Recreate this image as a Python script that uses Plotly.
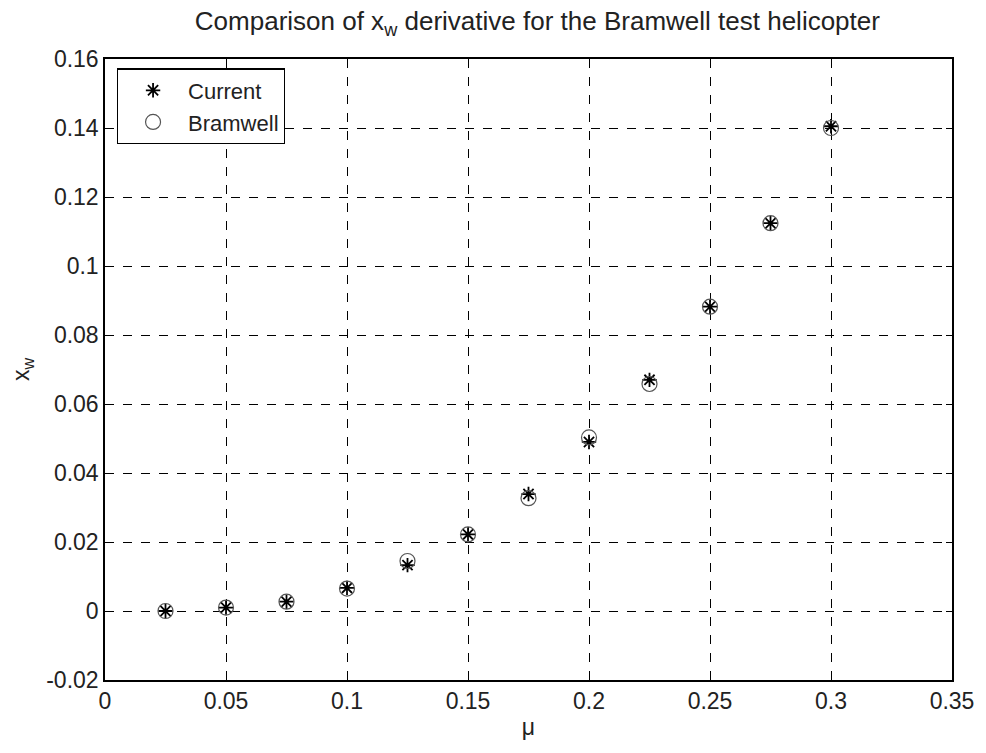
import plotly.graph_objects as go

mu = [0.025, 0.05, 0.075, 0.1, 0.125, 0.15, 0.175, 0.2, 0.225, 0.25, 0.275, 0.3]
current = [0.0, 0.0010, 0.0027, 0.0067, 0.0133, 0.0222, 0.0339, 0.0490, 0.0670, 0.0882, 0.1124, 0.1405]
bramwell = [0.0, 0.0010, 0.0027, 0.0065, 0.0145, 0.0222, 0.0327, 0.0503, 0.0658, 0.0882, 0.1124, 0.1400]

xticks = [0, 0.05, 0.1, 0.15, 0.2, 0.25, 0.3, 0.35]
xticklabels = ["0", "0.05", "0.1", "0.15", "0.2", "0.25", "0.3", "0.35"]
yticks = [-0.02, 0, 0.02, 0.04, 0.06, 0.08, 0.1, 0.12, 0.14, 0.16]
yticklabels = ["-0.02", "0", "0.02", "0.04", "0.06", "0.08", "0.1", "0.12", "0.14", "0.16"]

fig = go.Figure()
fig.add_trace(go.Scatter(
    x=mu, y=current, mode="markers", name="Current",
    marker=dict(symbol="asterisk-open", size=12, color="black",
                line=dict(color="black", width=1.8)),
))
fig.add_trace(go.Scatter(
    x=mu, y=bramwell, mode="markers", name="Bramwell",
    marker=dict(symbol="circle-open", size=15, color="#555555",
                line=dict(color="#555555", width=1.2)),
))

font = "Liberation Sans, Arial, sans-serif"
axis_common = dict(
    showline=True, linecolor="black", linewidth=1.5, mirror="allticks",
    ticks="inside", ticklen=6, tickcolor="black",
    showgrid=True, gridcolor="black", griddash="dash", gridwidth=1,
    zeroline=False, tickfont=dict(family=font, size=23, color="#222222"),
)
fig.update_xaxes(range=[0, 0.35], tickvals=xticks, ticktext=xticklabels,
                 title=dict(text="μ", font=dict(family=font, size=23, color="#222222"), standoff=6),
                 **axis_common)
fig.update_yaxes(range=[-0.02, 0.16], tickvals=yticks, ticktext=yticklabels,
                 title=dict(text="x<sub>w</sub>", font=dict(family=font, size=23, color="#222222"), standoff=10),
                 **axis_common)

fig.update_layout(
    width=986, height=753,
    margin=dict(l=105, r=30, t=59, b=73),
    paper_bgcolor="white", plot_bgcolor="white",
    title=dict(text="Comparison of x<sub>w</sub> derivative for the Bramwell test helicopter",
               x=0.545, xanchor="center", y=0.972, yanchor="middle",
               font=dict(family=font, size=26, color="#222222")),
    legend=dict(x=0.014, y=0.985, xanchor="left", yanchor="top",
                bgcolor="white", bordercolor="black", borderwidth=1.2,
                font=dict(family=font, size=22, color="#222222"),
                itemwidth=60, tracegroupgap=0),
    showlegend=True,
)

fig.write_html("out.html")
